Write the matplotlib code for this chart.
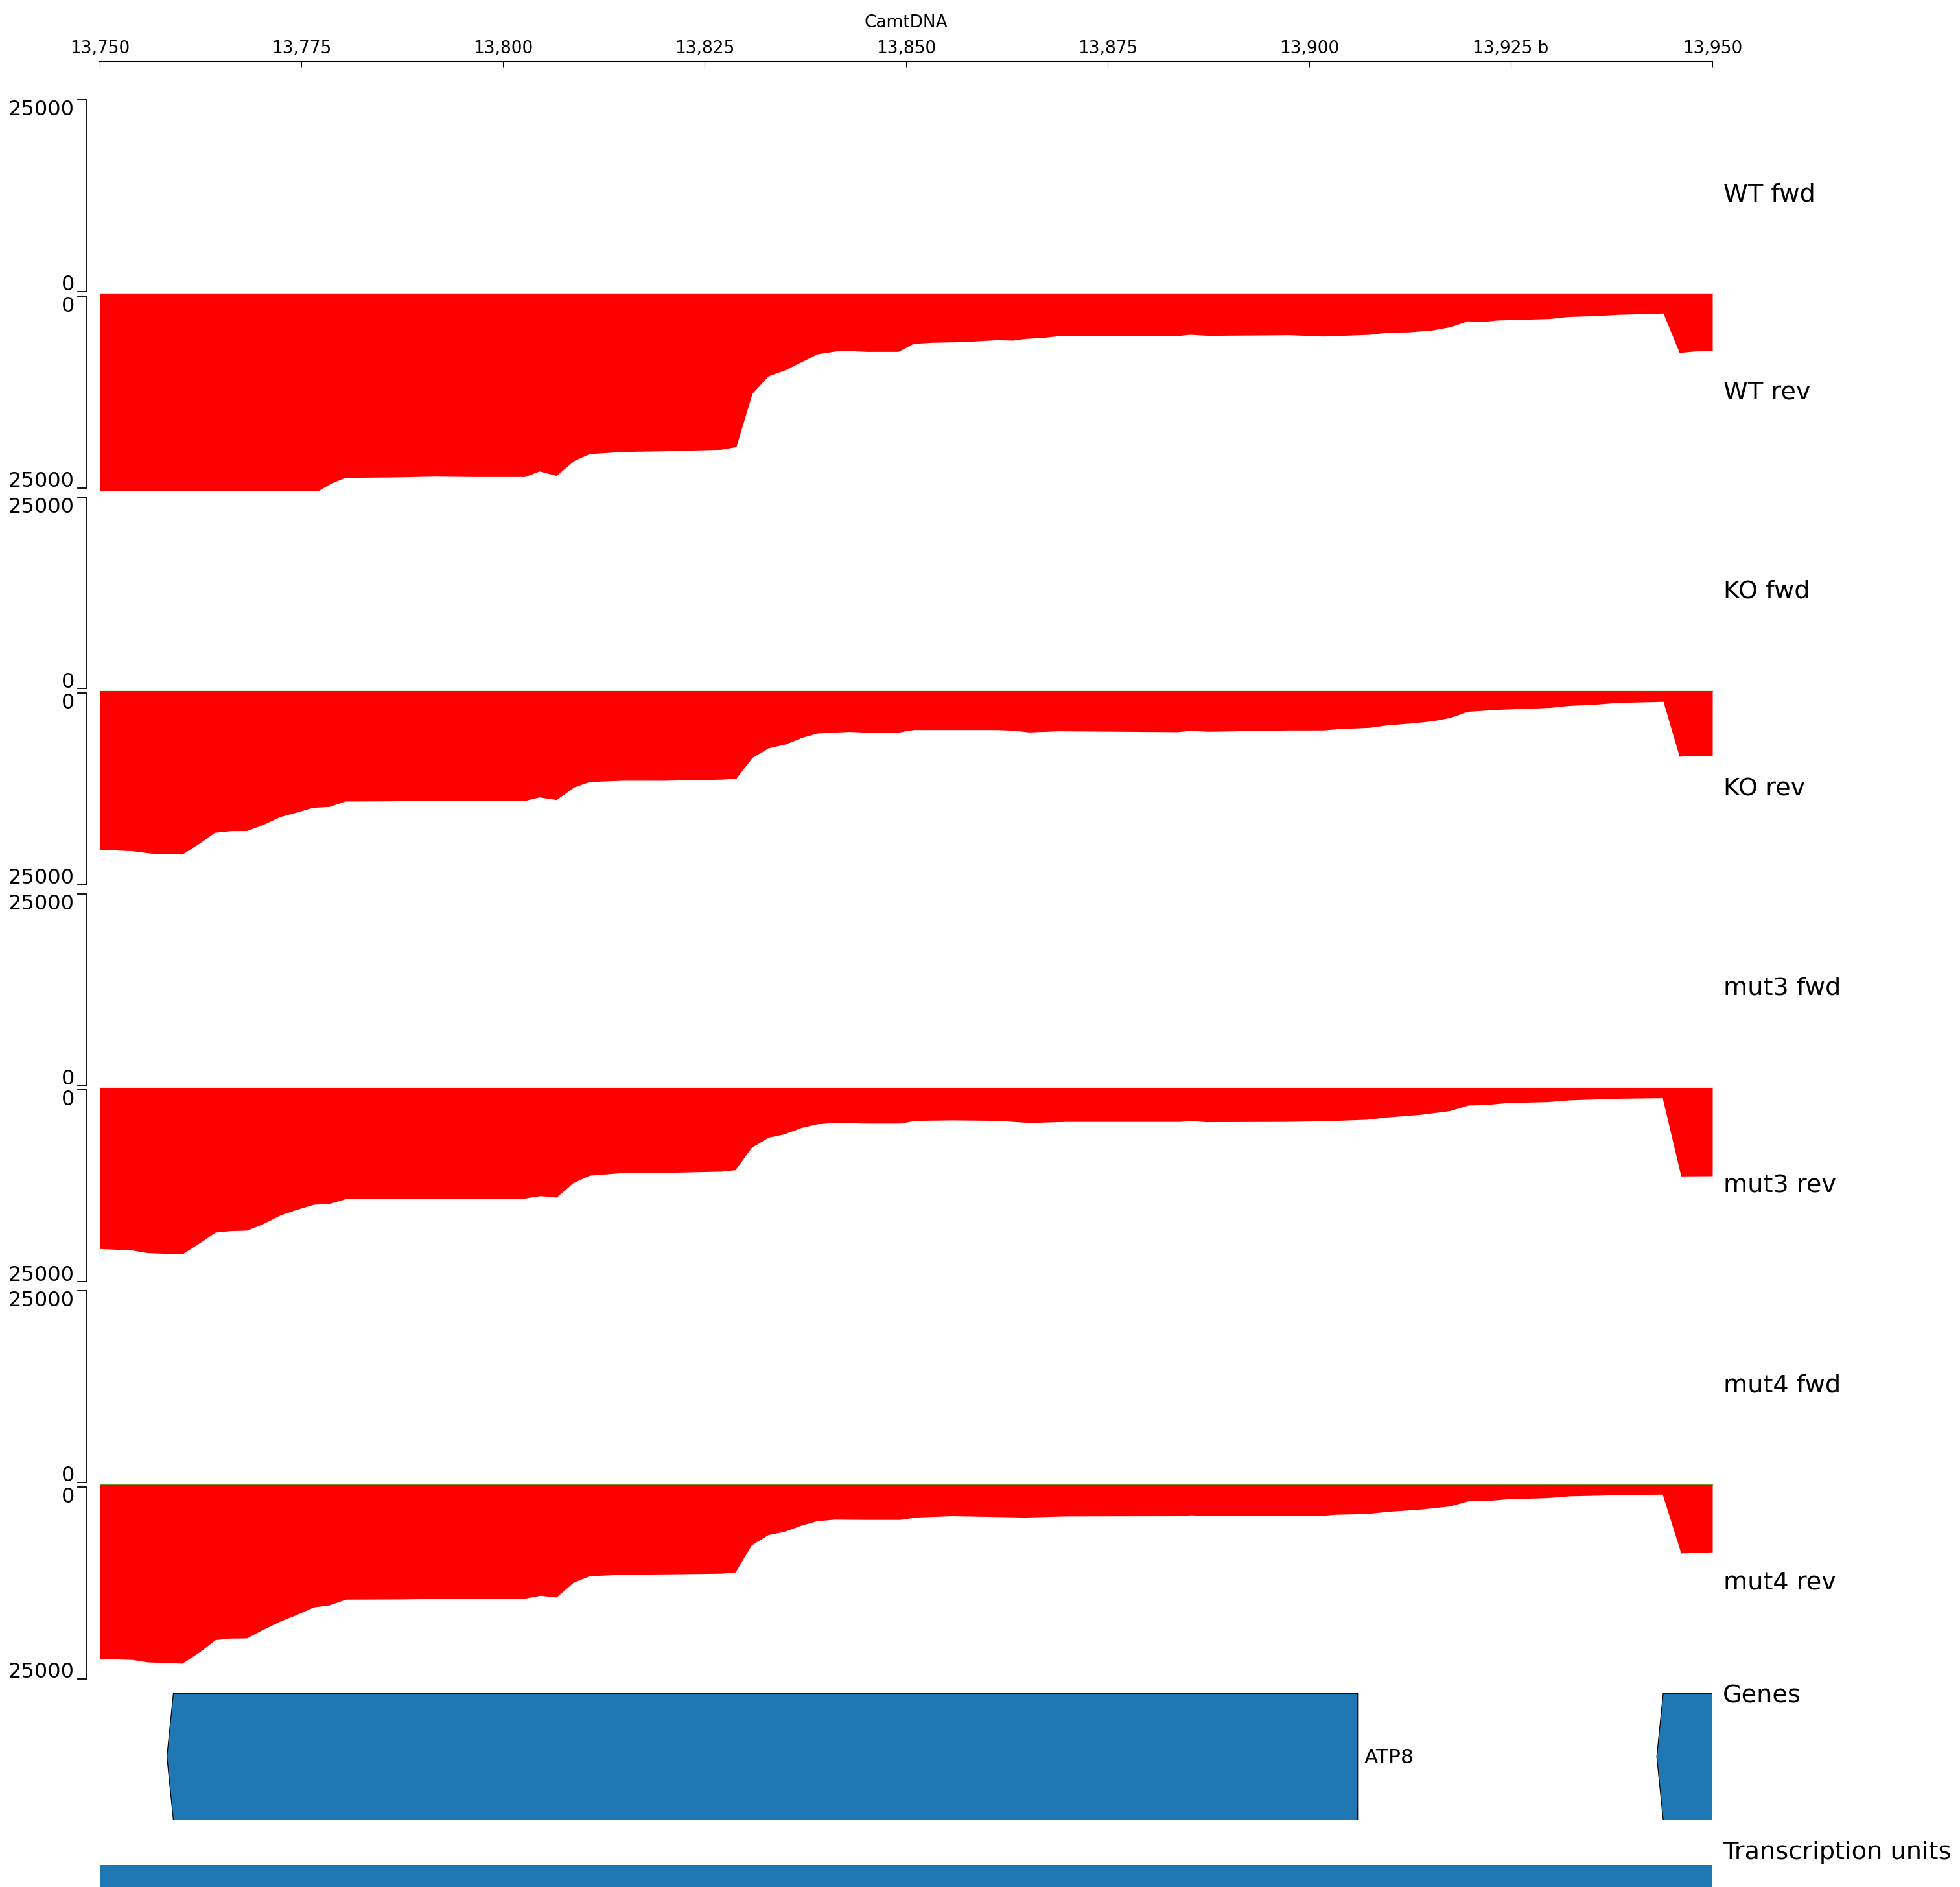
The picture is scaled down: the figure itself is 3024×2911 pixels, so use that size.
import matplotlib
matplotlib.use("Agg")
import matplotlib.pyplot as plt
from matplotlib.patches import Polygon

# region shown and track scale
chrom = "CamtDNA"
region_start, region_end = 13750, 13950
y_max = 25000

tick_pos = [13750, 13775, 13800, 13825, 13850, 13875, 13900, 13925, 13950]
tick_labels = ["13,750", "13,775", "13,800", "13,825", "13,850",
               "13,875", "13,900", "13,925 b", "13,950"]

samples = ["WT", "KO", "mut3", "mut4"]

# forward strand coverage is empty in all samples
fwd_pos = [13750, 13950]
fwd_val = [0, 0]

# reverse strand coverage
wt_rev_pos = [13750, 13777.1, 13778.6, 13780.4, 13786.3, 13791.5, 13796.3, 13802.7,
              13804.5, 13806.6, 13808.8, 13810.7, 13814.8, 13819.9, 13827.0, 13828.9,
              13830.9, 13832.9, 13835.0, 13839.0, 13841.3, 13843.2, 13845.1, 13849.0,
              13850.9, 13853.2, 13857.1, 13861.3, 13863.2, 13864.8, 13867.1, 13869.0,
              13883.6, 13885.2, 13887.5, 13897.5, 13901.7, 13907.5, 13909.8, 13912.3,
              13915.2, 13917.5, 13919.6, 13921.7, 13923.3, 13929.8, 13932.0, 13935.9,
              13938.2, 13943.9, 13945.9, 13947.9, 13950]
wt_rev_val = [25000, 25000, 24120, 23350, 23300, 23190, 23240, 23240,
              22530, 23100, 21210, 20330, 20060, 19970, 19780, 19450,
              12640, 10440, 9670, 7640, 7280, 7250, 7340, 7340,
              6320, 6180, 6100, 5850, 5910, 5690, 5550, 5330,
              5330, 5170, 5300, 5220, 5390, 5170, 4890, 4860,
              4620, 4200, 3460, 3520, 3350, 3160, 2910, 2780,
              2640, 2470, 7470, 7280, 7250]

ko_rev_pos = [13750, 13754.0, 13756.3, 13760.2, 13762.2, 13764.2, 13766.3, 13768.2,
              13770.2, 13772.4, 13774.4, 13776.4, 13778.4, 13780.4, 13786.3, 13791.5,
              13794.7, 13802.7, 13804.5, 13806.6, 13808.8, 13810.7, 13814.8, 13819.9,
              13827.0, 13828.9, 13830.9, 13832.9, 13835.0, 13837.1, 13839.0, 13842.9,
              13845.1, 13849.0, 13850.9, 13861.3, 13863.2, 13865.2, 13869.0, 13883.6,
              13885.2, 13887.5, 13897.5, 13901.7, 13903.6, 13907.5, 13909.8, 13912.3,
              13915.2, 13917.5, 13919.6, 13923.3, 13929.8, 13932.0, 13935.9, 13938.2,
              13943.9, 13945.9, 13947.9, 13950]
ko_rev_val = [20170, 20360, 20660, 20770, 19480, 18020, 17800, 17800,
              17030, 15990, 15440, 14840, 14730, 14040, 14010, 13930,
              13980, 13960, 13520, 13850, 12250, 11570, 11400, 11400,
              11260, 11130, 8490, 7280, 6790, 5930, 5390, 5190,
              5280, 5280, 4950, 4950, 5030, 5250, 5110, 5220,
              5060, 5170, 5000, 5000, 4840, 4670, 4340, 4150,
              3850, 3410, 2640, 2390, 2140, 1900, 1700, 1510,
              1370, 8350, 8240, 8240]

mut3_rev_pos = [13750, 13754.0, 13755.9, 13760.2, 13762.4, 13764.3, 13766.2, 13768.2,
                13770.1, 13772.4, 13774.3, 13776.5, 13778.4, 13780.5, 13787.5, 13792.6,
                13796.5, 13802.6, 13804.6, 13806.6, 13808.7, 13810.7, 13814.7, 13820.9,
                13827.1, 13828.8, 13830.8, 13832.9, 13834.8, 13837.0, 13838.9, 13841.1,
                13845.1, 13849.2, 13851.2, 13855.7, 13861.4, 13865.3, 13869.8, 13884.0,
                13885.3, 13887.2, 13896.8, 13902.0, 13907.1, 13909.7, 13913.6, 13917.4,
                13919.7, 13921.9, 13924.5, 13929.6, 13932.2, 13938.0, 13943.8, 13946.1,
                13950]
mut3_rev_val = [20470, 20660, 20990, 21150, 19700, 18380, 18190, 18130,
                17360, 16180, 15520, 14840, 14750, 14120, 14120, 14070,
                14070, 14070, 13740, 13930, 12090, 11150, 10820, 10770,
                10630, 10440, 7610, 6320, 5910, 5080, 4620, 4450,
                4530, 4530, 4180, 4120, 4180, 4450, 4310, 4310,
                4200, 4340, 4310, 4230, 4040, 3740, 3430, 2940,
                2230, 2170, 1920, 1790, 1570, 1370, 1290, 11240,
                11210]

mut4_rev_pos = [13750, 13754.0, 13755.9, 13760.2, 13762.4, 13764.3, 13766.2, 13768.2,
                13770.1, 13772.4, 13774.3, 13776.5, 13778.4, 13780.5, 13787.5, 13792.6,
                13796.5, 13802.6, 13804.6, 13806.6, 13808.7, 13810.7, 13814.7, 13820.9,
                13827.1, 13828.8, 13830.8, 13832.9, 13834.8, 13837.0, 13838.9, 13841.1,
                13845.1, 13849.2, 13851.2, 13855.7, 13864.7, 13869.8, 13884.0, 13885.3,
                13887.2, 13896.8, 13902.0, 13903.3, 13907.1, 13909.7, 13913.6, 13917.4,
                13919.7, 13921.9, 13924.5, 13929.6, 13932.2, 13938.0, 13943.8, 13946.1,
                13950]
mut4_rev_val = [22120, 22250, 22560, 22720, 21240, 19730, 19530, 19510,
                18490, 17340, 16570, 15580, 15330, 14590, 14560, 14480,
                14530, 14480, 14090, 14310, 12450, 11620, 11430, 11370,
                11290, 11130, 7690, 6370, 5990, 5170, 4620, 4420,
                4450, 4450, 4150, 3980, 4150, 4010, 3980, 3870,
                3960, 3930, 3900, 3790, 3710, 3430, 3160, 2750,
                2090, 2060, 1840, 1680, 1460, 1320, 1240, 8710,
                8570]

rev_pos = [wt_rev_pos, ko_rev_pos, mut3_rev_pos, mut4_rev_pos]
rev_val = [wt_rev_val, ko_rev_val, mut3_rev_val, mut4_rev_val]

# gene annotation
gene_names = ["ATP8", ""]
gene_start = [13759.1, 13943.9]
gene_end = [13906.0, 13960.0]

# transcription units
tu_start = [13750]
tu_end = [13950]

# ---- layout (pixels of the output image) ----
W, H = 3024, 2911
DPI = 100
X0, X1 = 154.3, 2642.0
LABEL_X = 2659
BRACKET_X, BRACKET_TICK_X, BRACKET_TEXT_X = 134, 120, 115


def fx(x):
    return x / W


def fy(y):
    return 1 - y / H


def box(left, top, right, bottom):
    return [fx(left), fy(bottom), (right - left) / W, (bottom - top) / H]


fig = plt.figure(figsize=(W / DPI, H / DPI), dpi=DPI)

# x axis on top
ax_x = fig.add_axes(box(X0, 95, X1, 95))
ax_x.set_xlim(region_start, region_end)
for side in ["top", "left", "right"]:
    ax_x.spines[side].set_visible(False)
ax_x.spines["bottom"].set_linewidth(1.5)
ax_x.set_yticks([])
ax_x.set_xticks(tick_pos)
ax_x.set_xticklabels(tick_labels)
ax_x.tick_params(axis="x", direction="out", length=6.5, width=0.8,
                 bottom=True, top=False, labelbottom=False, labeltop=True,
                 labelsize=19, pad=-1.6)
ax_x.patch.set_visible(False)
fig.text(fx((X0 + X1) / 2), fy(41.7), chrom, ha="center", va="baseline", fontsize=19)


def y_bracket(top_px, bottom_px, top_label, bottom_label):
    xs = [fx(BRACKET_TICK_X), fx(BRACKET_X), fx(BRACKET_X), fx(BRACKET_TICK_X)]
    ys = [fy(top_px), fy(top_px), fy(bottom_px), fy(bottom_px)]
    fig.add_artist(plt.Line2D(xs, ys, color="black", lw=1.3, transform=fig.transFigure))
    fig.text(fx(BRACKET_TEXT_X), fy(top_px), top_label, ha="right", va="top", fontsize=23)
    fig.text(fx(BRACKET_TEXT_X), fy(bottom_px - 1.5), bottom_label, ha="right",
             va="baseline", fontsize=23)


PAIR_TOP, PAIR_STEP, HALF = 147.2, 612.3, 306.1
for i, name in enumerate(samples):
    top = PAIR_TOP + PAIR_STEP * i
    mid = top + HALF
    bottom = top + 609.5

    ax_f = fig.add_axes(box(X0, top, X1, mid))
    ax_f.set_xlim(region_start, region_end)
    ax_f.set_ylim(0, y_max)
    ax_f.axis("off")
    ax_f.plot(fwd_pos, fwd_val, color="limegreen", lw=1.0, clip_on=False)
    y_bracket(top + 7.1, top + 302.8, str(y_max), "0")
    fig.text(fx(LABEL_X), fy(top + HALF / 2 + 10), f"{name} fwd", va="baseline", fontsize=27.5)

    ax_r = fig.add_axes(box(X0, mid, X1, bottom))
    ax_r.set_xlim(region_start, region_end)
    ax_r.set_ylim(y_max, 0)
    ax_r.axis("off")
    ax_r.fill_between(rev_pos[i], 0, rev_val[i], color="red", lw=0)
    y_bracket(top + 309.5, top + 605.5, "0", str(y_max))
    fig.text(fx(LABEL_X), fy((mid + bottom) / 2 + 10), f"{name} rev", va="baseline", fontsize=27.5)

# genes
ax_g = fig.add_axes(box(X0, 2612.3, X1, 2807.7))
ax_g.set_xlim(region_start, region_end)
ax_g.set_ylim(0, 1)
ax_g.axis("off")
tip = 0.8
for name, s, e in zip(gene_names, gene_start, gene_end):
    shape = Polygon([(s, 1), (e, 1), (e, 0), (s, 0), (s - tip, 0.5)], closed=True,
                    facecolor="#1f77b4", edgecolor="black", lw=0.9)
    ax_g.add_patch(shape)
    if name:
        ax_g.annotate(name, xy=(e, 0.5), xytext=(7.5, -7.5), textcoords="offset points",
                      va="baseline", fontsize=22.5)
fig.text(fx(LABEL_X - 1), fy(2626.7), "Genes", va="baseline", fontsize=27.5)

# transcription units
ax_t = fig.add_axes(box(X0, 2876.7, X1, 2911))
ax_t.set_xlim(region_start, region_end)
ax_t.set_ylim(0, 1)
ax_t.axis("off")
for s, e in zip(tu_start, tu_end):
    ax_t.fill_between([s, e], 0, 1, color="#1f77b4", lw=0)
fig.text(fx(LABEL_X - 1), fy(2868), "Transcription units", va="baseline", fontsize=27.5)

fig.savefig("out.png", dpi=DPI)
